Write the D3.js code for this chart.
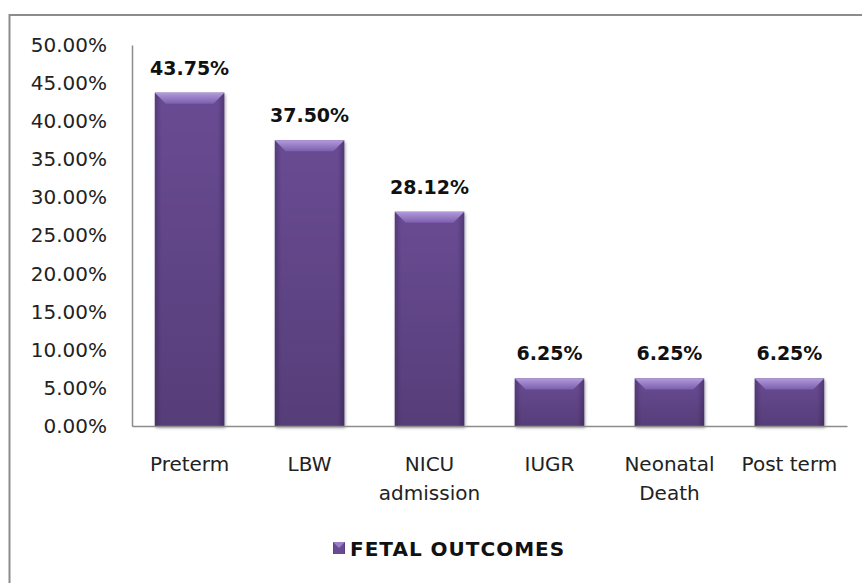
<!DOCTYPE html>
<html>
<head>
<meta charset="utf-8">
<script src="https://cdn.jsdelivr.net/npm/d3@7"></script>
<style>
    body { margin: 0; background: #fff; }
    svg { display: block; font-family: "DejaVu Sans", sans-serif; }
    .tick text { font-size: 20px; fill: #222; }
</style>
</head>
<body>
<svg width="862" height="583"></svg>
<script>
var categories = ["Preterm", "LBW", "NICU admission", "IUGR", "Neonatal Death", "Post term"];
var values = [43.75, 37.50, 28.12, 6.25, 6.25, 6.25];
var yTicks = [0, 5, 10, 15, 20, 25, 30, 35, 40, 45, 50];
var seriesName = "FETAL OUTCOMES";

var svg = d3.select("svg");
var margin = { left: 132, right: 15, top: 45, bottom: 157 };
var W = 862, H = 583;

// outer chart border
svg.append("rect")
    .attr("x", 9.5).attr("y", 15)
    .attr("width", 870).attr("height", 600)
    .attr("fill", "none")
    .attr("stroke", "#8c8c8c")
    .attr("stroke-width", 2);

var defs = svg.append("defs");
var grad = defs.append("linearGradient").attr("id", "barGrad")
    .attr("x1", 0).attr("x2", 1).attr("y1", 0).attr("y2", 0);
grad.append("stop").attr("offset", "0%").attr("stop-color", "#553b7c");
grad.append("stop").attr("offset", "10%").attr("stop-color", "#694b93");
grad.append("stop").attr("offset", "90%").attr("stop-color", "#694b93");
grad.append("stop").attr("offset", "100%").attr("stop-color", "#503876");
var vgrad = defs.append("linearGradient").attr("id", "shadeGrad")
    .attr("x1", 0).attr("x2", 0).attr("y1", 0).attr("y2", 1);
vgrad.append("stop").attr("offset", "0%").attr("stop-color", "#000").attr("stop-opacity", 0);
vgrad.append("stop").attr("offset", "100%").attr("stop-color", "#000").attr("stop-opacity", 0.18);
var bgrad = defs.append("linearGradient").attr("id", "bevelGrad")
    .attr("x1", 0).attr("x2", 0).attr("y1", 0).attr("y2", 1);
bgrad.append("stop").attr("offset", "0%").attr("stop-color", "#b29bdc");
bgrad.append("stop").attr("offset", "100%").attr("stop-color", "#7c5fae");
var filter = defs.append("filter").attr("id", "shadow")
    .attr("x", "-20%").attr("y", "-20%").attr("width", "140%").attr("height", "140%");
filter.append("feDropShadow").attr("dx", 1).attr("dy", 2).attr("stdDeviation", 1.5)
    .attr("flood-color", "#000").attr("flood-opacity", 0.35);

var x = d3.scaleBand()
    .domain(categories)
    .range([margin.left, W - margin.right])
    .paddingInner(0.42)
    .paddingOuter(0.19);

var y = d3.scaleLinear()
    .domain([0, 50])
    .range([H - margin.bottom, margin.top]);

// y axis
var yAxis = svg.append("g")
    .attr("transform", `translate(${margin.left},0)`)
    .call(d3.axisLeft(y).tickValues(yTicks).tickSize(0).tickPadding(25)
        .tickFormat(d => d.toFixed(2) + "%"));
yAxis.select(".domain").attr("stroke", "#8c8c8c").attr("stroke-width", 1.5);
yAxis.selectAll(".tick line").remove();
yAxis.selectAll(".tick text").attr("font-family", "DejaVu Sans").attr("font-size", 20);

// bars
var bars = svg.selectAll("g.bar")
    .data(categories.map((c, i) => ({ name: c, value: values[i] })))
    .enter().append("g")
    .attr("class", "bar");

bars.append("rect")
    .attr("x", d => x(d.name))
    .attr("y", d => y(d.value))
    .attr("width", x.bandwidth())
    .attr("height", d => y(0) - y(d.value))
    .attr("fill", "url(#barGrad)")
    .attr("filter", "url(#shadow)");

bars.append("rect")
    .attr("x", d => x(d.name))
    .attr("y", d => y(d.value))
    .attr("width", x.bandwidth())
    .attr("height", d => y(0) - y(d.value))
    .attr("fill", "url(#shadeGrad)");

// top bevel
var bev = 11;
bars.append("path")
    .attr("d", d => {
        var x0 = x(d.name), x1 = x0 + x.bandwidth(), t = y(d.value);
        return `M${x0},${t}L${x1},${t}L${x1 - bev},${t + bev}L${x0 + bev},${t + bev}Z`;
    })
    .attr("fill", "url(#bevelGrad)");

// value labels
bars.append("text")
    .attr("x", d => x(d.name) + x.bandwidth() / 2)
    .attr("y", d => y(d.value) - 18)
    .attr("text-anchor", "middle")
    .attr("font-size", 19)
    .attr("font-weight", "bold")
    .attr("fill", "#111")
    .text(d => d.value.toFixed(2) + "%");

// x axis
var xAxis = svg.append("g")
    .attr("transform", `translate(0,${y(0)})`)
    .call(d3.axisBottom(x).tickSize(0).tickPadding(0).tickFormat(""));
xAxis.select(".domain").attr("stroke", "#8c8c8c").attr("stroke-width", 1.5);

// category labels (wrapped)
var wrap = { "NICU admission": ["NICU", "admission"], "Neonatal Death": ["Neonatal", "Death"] };
categories.forEach(c => {
    var lines = wrap[c] || [c];
    var t = svg.append("text")
        .attr("x", x(c) + x.bandwidth() / 2)
        .attr("y", y(0) + 45)
        .attr("text-anchor", "middle")
        .attr("font-size", 20)
        .attr("fill", "#222");
    lines.forEach((l, k) => {
        t.append("tspan")
            .attr("x", x(c) + x.bandwidth() / 2)
            .attr("dy", k ? 29 : 0)
            .text(l);
    });
});

// legend
var lg = svg.append("g").attr("transform", "translate(333,542)");
lg.append("rect").attr("width", 12).attr("height", 12)
    .attr("fill", "url(#barGrad)");
lg.append("path").attr("d", "M0,0L12,0L6,6Z").attr("fill", "#9a7fc6");
lg.append("text")
    .attr("x", 17).attr("y", 14)
    .attr("font-size", 20)
    .attr("font-weight", "bold")
    .attr("letter-spacing", 1)
    .attr("fill", "#111")
    .text(seriesName);
</script>
</body>
</html>
